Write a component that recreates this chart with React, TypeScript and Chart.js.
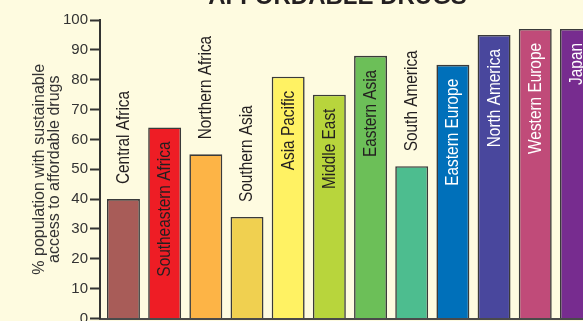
import React, { useEffect, useRef } from 'react';
import { Chart, registerables } from 'chart.js';

Chart.register(...registerables);

const chartTitle = 'AFFORDABLE DRUGS';
const regions = [
  'Central Africa',
  'Southeastern Africa',
  'Northern Africa',
  'Southern Asia',
  'Asia Pacific',
  'Middle East',
  'Eastern Asia',
  'South America',
  'Eastern Europe',
  'North America',
  'Western Europe',
  'Japan',
];
const accessPct = [40, 64, 55, 34, 81, 75, 88, 51, 85, 95, 97, 97];
const yAxisTitle = ['% population with sustainable', 'access to affordable drugs'];
const yMin = 0;
const yMax = 100;
const yStep = 10;

const barColors = [
  '#A85C58',
  '#EE1D25',
  '#FDB446',
  '#F0D050',
  '#FFF263',
  '#B8D53C',
  '#6CBF58',
  '#4DBD8F',
  '#0070BA',
  '#49479D',
  '#C04B79',
  '#772C8F',
];
const labelColors = [
  '#231F20', '#231F20', '#231F20', '#231F20', '#231F20', '#231F20',
  '#231F20', '#231F20', '#FFFFFF', '#FFFFFF', '#FFFFFF', '#FFFFFF',
];
const labelInside = [false, true, false, false, true, true, true, false, true, true, true, true];

const FONT = '"Liberation Sans", Arial, sans-serif';
const BG = '#FEFBE0';
const INK = '#231F20';

const barLabelPlugin = {
  id: 'barLabels',
  afterDatasetsDraw(chart: any) {
    const ctx = chart.ctx;
    const meta = chart.getDatasetMeta(0);
    const sx = 0.855;
    ctx.save();
    ctx.font = `18px ${FONT}`;
    ctx.textBaseline = 'middle';
    meta.data.forEach((bar: any, i: number) => {
      const { x, y } = bar.getProps(['x', 'y'], true);
      ctx.save();
      ctx.translate(x + 0.5, y);
      ctx.rotate(-Math.PI / 2);
      ctx.scale(sx, 1);
      ctx.fillStyle = labelColors[i];
      if (labelInside[i]) {
        ctx.textAlign = 'right';
        ctx.fillText(regions[i], -14 / sx, 0);
      } else {
        ctx.textAlign = 'left';
        ctx.fillText(regions[i], 15 / sx, 0);
      }
      ctx.restore();
    });
    ctx.restore();
  },
};

const titlePlugin = {
  id: 'topTitle',
  afterDraw(chart: any) {
    const ctx = chart.ctx;
    ctx.save();
    ctx.font = `bold 24px ${FONT}`;
    ctx.fillStyle = INK;
    ctx.textAlign = 'center';
    ctx.textBaseline = 'alphabetic';
    ctx.fillText(chartTitle, 337.5, 44);
    ctx.restore();
  },
};

export default function App() {
  const canvasRef = useRef<HTMLCanvasElement | null>(null);

  useEffect(() => {
    if (!canvasRef.current) return;
    const chart = new Chart(canvasRef.current, {
      type: 'bar',
      data: {
        datasets: [
          {
            label: 'Access',
            data: accessPct.map((v, i) => ({ x: i, y: v })),
            backgroundColor: barColors,
            borderColor: '#3a3a3a',
            borderWidth: 1.6,
            barPercentage: 0.8,
            categoryPercentage: 1,
          },
        ],
      },
      options: {
        responsive: false,
        animation: false,
        devicePixelRatio: 1,
        layout: { padding: { top: 60, bottom: 21.5, left: 0, right: 22.4 } },
        plugins: {
          legend: { display: false },
          tooltip: { enabled: false },
          title: { display: false },
        },
        scales: {
          x: {
            type: 'linear',
            min: -0.57,
            max: 12,
            offset: false,
            bounds: 'ticks',
            ticks: { display: false },
            grid: { display: false, drawTicks: false, offset: false },
            border: { display: true, color: '#4a4a4a', width: 2 },
          },
          y: {
            min: yMin,
            max: yMax,
            afterFit: (scale: any) => {
              scale.width = 100;
            },
            ticks: {
              stepSize: yStep,
              color: '#333333',
              padding: 2,
              font: { family: FONT, size: 15 },
            },
            grid: {
              drawOnChartArea: false,
              drawTicks: true,
              tickLength: 10,
              tickWidth: 2,
              tickColor: '#333333',
            },
            border: { display: true, color: '#333333', width: 2 },
            title: {
              display: true,
              text: yAxisTitle,
              color: '#333333',
              padding: { top: 32.5, bottom: 0 },
              font: { family: FONT, size: 16, lineHeight: '15px' },
            },
          },
        },
      },
      plugins: [barLabelPlugin, titlePlugin],
    });
    return () => chart.destroy();
  }, []);

  return (
    <div
      style={{
        position: 'fixed',
        left: 0,
        top: 0,
        width: 583,
        height: 321,
        overflow: 'hidden',
        background: BG,
      }}
    >
      <div style={{ position: 'absolute', left: 0, top: -40, width: 640, height: 380 }}>
        <canvas ref={canvasRef} width={640} height={380} style={{ display: 'block' }} />
      </div>
    </div>
  );
}
